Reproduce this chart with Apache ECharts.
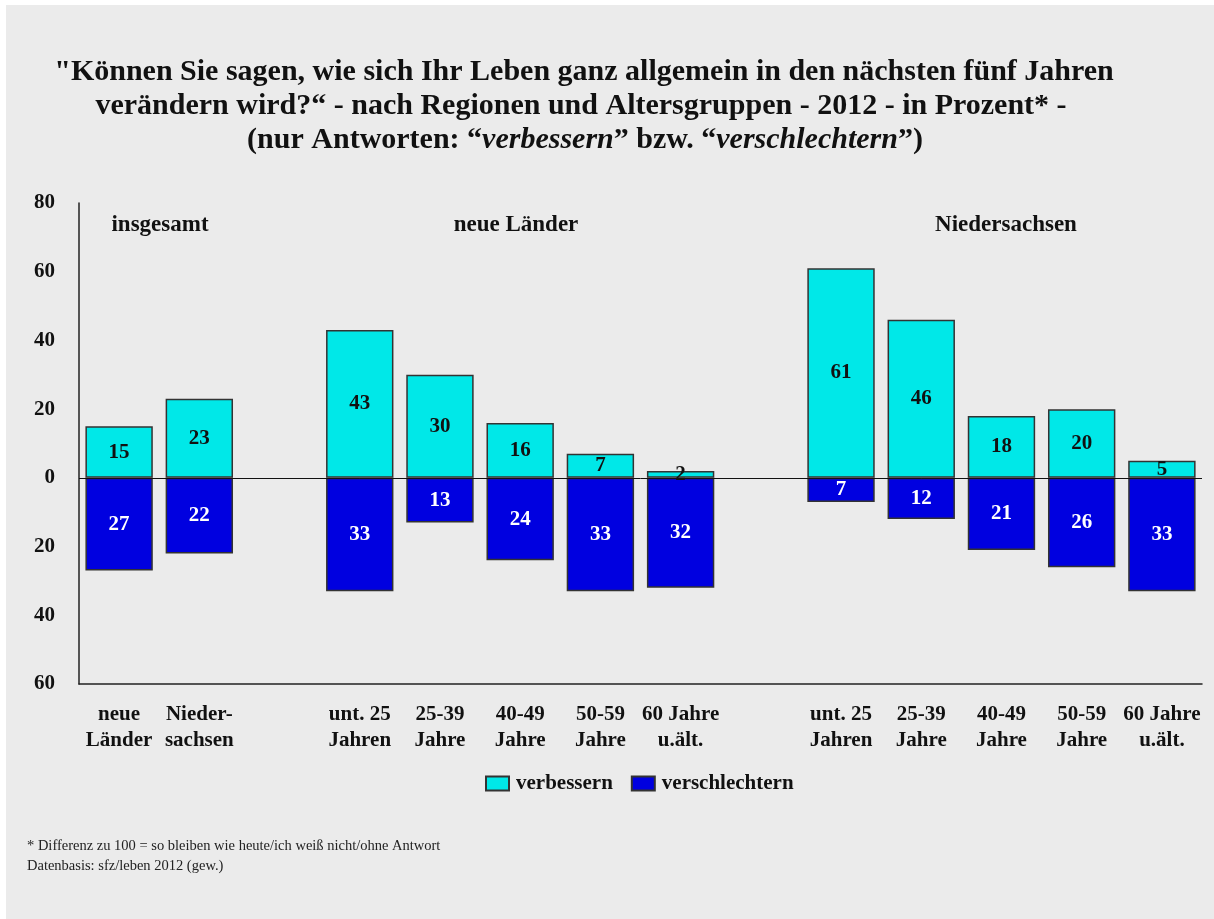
<!DOCTYPE html>
<html>
<head>
<meta charset="utf-8">
<script src="https://cdn.jsdelivr.net/npm/echarts@6/dist/echarts.min.js"></script>
<style>
html,body{margin:0;padding:0;background:#fff;}
#c{width:1214px;height:919px;}
</style>
</head>
<body>
<div id="c"></div>
<script>
const categories = ['neue\nLänder','Nieder-\nsachsen','','unt. 25\nJahren','25-39\nJahre','40-49\nJahre','50-59\nJahre','60 Jahre\nu.ält.','','unt. 25\nJahren','25-39\nJahre','40-49\nJahre','50-59\nJahre','60 Jahre\nu.ält.'];
const verbessern = [15,23,null,43,30,16,7,2,null,61,46,18,20,5];
const verschlechtern = [-27,-22,null,-33,-13,-24,-33,-32,null,-7,-12,-21,-26,-33];
const groupTitles = ['insgesamt','neue Länder','Niedersachsen'];
const titleLines = ['"Können Sie sagen, wie sich Ihr Leben ganz allgemein in den nächsten fünf Jahren','verändern wird?“ - nach Regionen und Altersgruppen - 2012 - in Prozent* -'];
const footnotes = ['* Differenz zu 100 = so bleiben wie heute/ich weiß nicht/ohne Antwort','Datenbasis: sfz/leben 2012 (gew.)'];

const SERIF = '"Liberation Serif","DejaVu Serif",serif';
const chart = echarts.init(document.getElementById('c'));
const TF = 'bold 30px '+SERIF;
const gt = (x, t) => ({type:'text', x:x, y:225, style:{text:t, font:'bold 23px '+SERIF, fill:'#111', align:'center', verticalAlign:'middle'}});
chart.setOption({
  backgroundColor:'#fff',
  animation:false,
  graphic:[
    {type:'rect', z:-10, shape:{x:6,y:5,width:1208,height:914}, style:{fill:'#ebebeb'}, silent:true},
    {type:'text', x:584, y:72, style:{text:titleLines[0], font:TF, fill:'#111', align:'center', verticalAlign:'middle'}},
    {type:'text', x:581, y:106, style:{text:titleLines[1], font:TF, fill:'#111', align:'center', verticalAlign:'middle'}},
    {type:'text', x:585, y:140, style:{rich:{b:{font:TF, fill:'#111'}, i:{font:'bold italic 30px '+SERIF, fill:'#111'}}, text:'{b|(nur Antworten: “}{i|verbessern}{b|” bzw. “}{i|verschlechtern}{b|”)}', align:'center', verticalAlign:'middle'}},
    gt(160, groupTitles[0]),
    gt(516, groupTitles[1]),
    gt(1006, groupTitles[2]),
    {type:'text', x:27, y:846, style:{text:footnotes[0], font:'14.5px '+SERIF, fill:'#222', verticalAlign:'middle'}},
    {type:'text', x:27, y:866, style:{text:footnotes[1], font:'14.5px '+SERIF, fill:'#222', verticalAlign:'middle'}}
  ],
  legend:{
    left:480, top:768, itemWidth:23, itemHeight:14, itemGap:18, icon:'rect',
    textStyle:{fontFamily:SERIF, fontWeight:'bold', fontSize:21, color:'#111', padding:[0,0,0,2]},
    data:[{name:'verbessern'},{name:'verschlechtern'}]
  },
  grid:{left:79, right:12, top:203, bottom:235, containLabel:false},
  xAxis:{
    type:'category', data:categories,
    axisLine:{onZero:false, lineStyle:{color:'#222', width:1.5}},
    axisTick:{show:false},
    axisLabel:{interval:0, margin:18, lineHeight:26, fontFamily:SERIF, fontWeight:'bold', fontSize:21, color:'#111'}
  },
  yAxis:{
    type:'value', min:-60, max:80, interval:20,
    axisLine:{show:true, lineStyle:{color:'#222', width:1.5}},
    axisTick:{show:false},
    splitLine:{show:false},
    axisLabel:{margin:24, fontFamily:SERIF, fontWeight:'bold', fontSize:21, color:'#111', formatter:v=>Math.abs(v)}
  },
  series:[
    {name:'verbessern', type:'bar', data:verbessern, barWidth:'84%', barGap:'-100%',
     itemStyle:{color:'#00e8e8', borderColor:'#333', borderWidth:1.5},
     label:{show:true, position:'inside', fontFamily:SERIF, fontWeight:'bold', fontSize:21, color:'#111', formatter:p=>Math.abs(p.value)},
     markLine:{silent:true, symbol:'none', label:{show:false}, lineStyle:{color:'#111', width:1, type:'solid'}, data:[{yAxis:0}], z:5}
    },
    {name:'verschlechtern', type:'bar', data:verschlechtern, barWidth:'84%', barGap:'-100%',
     itemStyle:{color:'#0000e0', borderColor:'#333', borderWidth:1.5},
     label:{show:true, position:'inside', fontFamily:SERIF, fontWeight:'bold', fontSize:21, color:'#fff', formatter:p=>Math.abs(p.value)}
    }
  ]
});
</script>
</body>
</html>
